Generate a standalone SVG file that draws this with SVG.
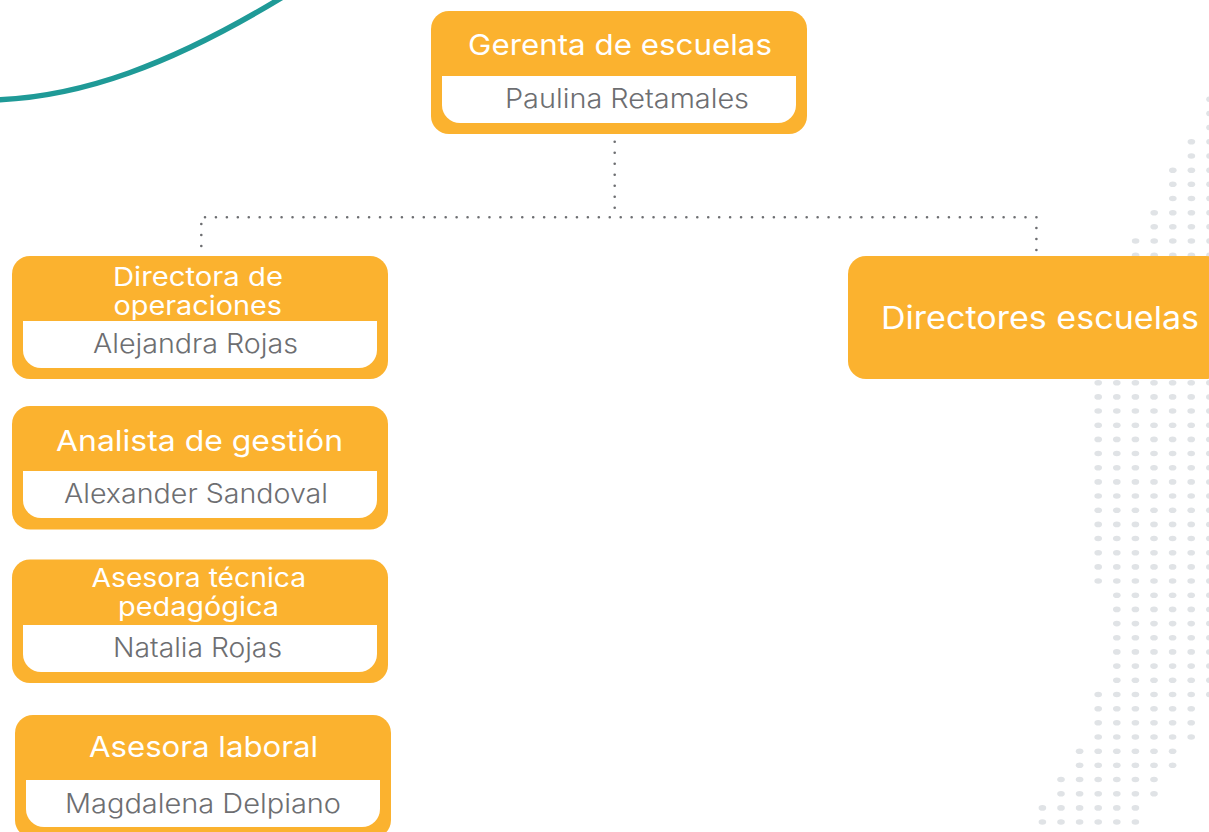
<svg xmlns="http://www.w3.org/2000/svg" width="1209" height="832" viewBox="0 0 1209 832">
<style>
.box{fill:#fbb22f}
.in{fill:#fff}
text{font-family:Inter,"Liberation Sans",sans-serif}
.t{fill:#fff;font-weight:400}
.n{fill:#6d6e71;font-weight:300;font-size:26.5px}
.conn{fill:none;stroke:#6d6e71;stroke-width:2.6;stroke-linecap:round}
.dots{fill:#e0e3e6}
</style>
<defs>
<ellipse id="d" rx="3.8" ry="2.8"/>
<g id="r2"><use href="#d"/><use href="#d" x="18.6"/></g>
<g id="r3"><use href="#r2"/><use href="#d" x="37.2"/></g>
<g id="r4"><use href="#r2"/><use href="#r2" x="37.2"/></g>
<g id="r5"><use href="#r4"/><use href="#d" x="74.4"/></g>
<g id="r6"><use href="#r4"/><use href="#r2" x="74.4"/></g>
<g id="r7"><use href="#r6"/><use href="#d" x="111.6"/></g>
</defs>
<g id="background-dots" class="dots">
<use href="#d" x="1210" y="99.3"/><use href="#d" x="1210" y="113.5"/><use href="#d" x="1210" y="127.6"/>
<use href="#r2" x="1191.4" y="141.8"/><use href="#r2" x="1191.4" y="156"/>
<use href="#r3" x="1172.8" y="170.2"/><use href="#r3" x="1172.8" y="184.3"/><use href="#r3" x="1172.8" y="198.5"/>
<use href="#r4" x="1154.2" y="212.7"/><use href="#r4" x="1154.2" y="226.8"/>
<use href="#r5" x="1135.6" y="241"/><use href="#r5" x="1135.6" y="255.2"/>
<use href="#r7" x="1098.2" y="382.7"/><use href="#r7" x="1098.2" y="396.9"/><use href="#r7" x="1098.2" y="411"/><use href="#r7" x="1098.2" y="425.2"/><use href="#r7" x="1098.2" y="439.4"/><use href="#r7" x="1098.2" y="453.5"/><use href="#r7" x="1098.2" y="467.7"/><use href="#r7" x="1098.2" y="481.9"/><use href="#r7" x="1098.2" y="496"/><use href="#r7" x="1098.2" y="510.2"/><use href="#r7" x="1098.2" y="524.4"/><use href="#r7" x="1098.2" y="538.5"/><use href="#r7" x="1098.2" y="552.7"/><use href="#r7" x="1098.2" y="566.9"/><use href="#r7" x="1098.2" y="581"/>
<use href="#r6" x="1116.8" y="595.2"/><use href="#r6" x="1116.8" y="609.4"/><use href="#r6" x="1116.8" y="623.6"/><use href="#r6" x="1116.8" y="637.8"/><use href="#r6" x="1116.8" y="651.9"/><use href="#r6" x="1116.8" y="666.1"/><use href="#r6" x="1116.8" y="680.3"/>
<use href="#r7" x="1098.2" y="694.5"/>
<use href="#r6" x="1098.2" y="708.7"/><use href="#r6" x="1098.2" y="722.8"/><use href="#r6" x="1098.2" y="737"/>
<use href="#r6" x="1079.6" y="751.2"/><use href="#r6" x="1079.6" y="765.3"/>
<use href="#r6" x="1061" y="779.5"/><use href="#r6" x="1061" y="793.7"/>
<use href="#r6" x="1042.4" y="807.9"/><use href="#r6" x="1042.4" y="822"/>
</g>
<path id="teal-arc" d="M-5 100C80 97 170 66 286-5" fill="none" stroke="#1f9a97" stroke-width="5.5"/>
<g id="connectors" class="conn">
<path d="M614.7 141.7V208" stroke-dasharray="0 11"/>
<path d="M205 217.2H1037.5" stroke-dasharray="0 10.94"/>
<path d="M201.3 224V247" stroke-dasharray="0 11"/>
<path d="M1036.4 228V251" stroke-dasharray="0 11"/>
</g>
<g id="node-gerenta">
<rect class="box" x="431" y="11" width="376" height="123" rx="18"/>
<path class="in" d="M442 76H796V105a18 18 0 0 1-18 18H460a18 18 0 0 1-18-18Z"/>
<text class="t" x="468" y="55" font-size="29" textLength="304" lengthAdjust="spacingAndGlyphs">Gerenta de escuelas</text>
<text class="n" x="505" y="108" textLength="244" lengthAdjust="spacingAndGlyphs">Paulina Retamales</text>
</g>
<g id="node-directora">
<rect class="box" x="12" y="256" width="376" height="123" rx="18"/>
<path class="in" d="M23 321H377V350a18 18 0 0 1-18 18H41a18 18 0 0 1-18-18Z"/>
<text class="t" x="113" y="286" font-size="26" textLength="170" lengthAdjust="spacingAndGlyphs">Directora de</text>
<text class="t" x="113.500" y="315" font-size="26" textLength="168.500" lengthAdjust="spacingAndGlyphs">operaciones</text>
<text class="n" x="93" y="353" textLength="205" lengthAdjust="spacingAndGlyphs">Alejandra Rojas</text>
</g>
<g id="node-analista">
<rect class="box" x="12" y="406" width="376" height="123.500" rx="18"/>
<path class="in" d="M23 471H377V500a18 18 0 0 1-18 18H41a18 18 0 0 1-18-18Z"/>
<text class="t" x="56" y="450.700" font-size="29" textLength="287" lengthAdjust="spacingAndGlyphs">Analista de gestión</text>
<text class="n" x="64" y="503" textLength="264" lengthAdjust="spacingAndGlyphs">Alexander Sandoval</text>
</g>
<g id="node-asesora-tecnica">
<rect class="box" x="12" y="559.500" width="376" height="123.500" rx="18"/>
<path class="in" d="M23 625H377V654a18 18 0 0 1-18 18H41a18 18 0 0 1-18-18Z"/>
<text class="t" x="91.500" y="587" font-size="26" textLength="214.500" lengthAdjust="spacingAndGlyphs">Asesora técnica</text>
<text class="t" x="118" y="616" font-size="26" textLength="161" lengthAdjust="spacingAndGlyphs">pedagógica</text>
<text class="n" x="113" y="657" textLength="169" lengthAdjust="spacingAndGlyphs">Natalia Rojas</text>
</g>
<g id="node-asesora-laboral">
<rect class="box" x="15" y="715" width="376" height="123" rx="18"/>
<path class="in" d="M26 780H380V809a18 18 0 0 1-18 18H44a18 18 0 0 1-18-18Z"/>
<text class="t" x="89" y="756.700" font-size="29" textLength="229" lengthAdjust="spacingAndGlyphs">Asesora laboral</text>
<text class="n" x="65" y="813" textLength="276" lengthAdjust="spacingAndGlyphs">Magdalena Delpiano</text>
</g>
<g id="node-directores">
<rect class="box" x="848" y="256" width="376" height="123" rx="18"/>
<text class="t" x="881" y="329" font-size="31.500" textLength="318" lengthAdjust="spacingAndGlyphs">Directores escuelas</text>
</g>
</svg>
